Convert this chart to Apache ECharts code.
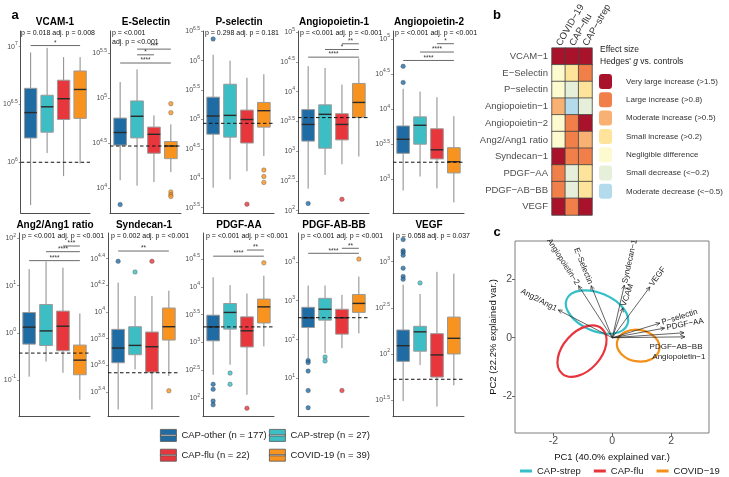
<!DOCTYPE html>
<html>
<head>
<meta charset="utf-8">
<title>Endothelial markers</title>
<script src="https://cdn.jsdelivr.net/npm/echarts@6/dist/echarts.min.js"></script>
<style>
* { margin: 0; padding: 0; }
#main { width: 729px; height: 477px; }
</style>
</head>
<body>
<div id="main"></div>
<script>
// ---- groups ----
var groups = ['CAP-other (n = 177)', 'CAP-strep (n = 27)', 'CAP-flu (n = 22)', 'COVID-19 (n = 39)'];
var groupColors = ['#1f6ca5', '#3cbec4', '#e7363c', '#f7931e'];

// ---- panel a: box stats in log10 units, [low whisker, q1, median, q3, high whisker] per group ----
var markers = ['VCAM-1', 'E-Selectin', 'P-selectin', 'Angiopoietin-1', 'Angiopoietin-2',
               'Ang2/Ang1 ratio', 'Syndecan-1', 'PDGF-AA', 'PDGF-AB-BB', 'VEGF'];
var pTexts = ['p = 0.018 adj. p = 0.008', 'p = <0.001\nadj. p = <0.001', 'p = 0.298 adj. p = 0.181',
              'p = <0.001 adj. p = <0.001', 'p = <0.001 adj. p = <0.001', 'p = <0.001 adj. p = <0.001',
              'p = 0.002 adj. p = <0.001', 'p = <0.001 adj. p = <0.001', 'p = <0.001 adj. p = <0.001',
              'p = 0.058 adj. p = 0.037'];

var vcamBox = [[5.63, 6.21, 6.43, 6.64, 6.95], [6.08, 6.26, 6.48, 6.58, 6.99], [5.88, 6.37, 6.55, 6.71, 6.91], [5.99, 6.38, 6.63, 6.79, 6.91]];
var eselBox = [[4.09, 4.48, 4.62, 4.78, 5.18], [4.03, 4.56, 4.80, 4.97, 5.32], [4.07, 4.39, 4.60, 4.68, 4.81], [4.18, 4.33, 4.47, 4.52, 4.71]];
var pselBox = [[3.84, 4.75, 5.06, 5.38, 6.10], [3.98, 4.70, 5.07, 5.60, 6.00], [4.12, 4.60, 5.00, 5.16, 5.71], [4.38, 4.87, 5.15, 5.29, 5.77]];
var ang1Box = [[2.37, 3.17, 3.45, 3.70, 4.43], [2.60, 3.05, 3.62, 3.78, 4.40], [2.78, 3.19, 3.45, 3.63, 4.12], [2.91, 3.57, 3.82, 4.14, 4.56]];
var ang2Box = [[2.84, 3.37, 3.57, 3.76, 4.29], [3.04, 3.50, 3.77, 3.89, 4.25], [2.87, 3.29, 3.42, 3.72, 4.17], [2.67, 3.09, 3.25, 3.45, 3.90]];
var ratioBox = [[-0.93, -0.24, 0.12, 0.43, 1.35], [-0.61, -0.27, 0.04, 0.60, 1.51], [-0.85, -0.38, 0.14, 0.46, 1.38], [-1.42, -0.89, -0.58, -0.26, 0.41]];
var syndBox = [[3.27, 3.62, 3.73, 3.87, 4.22], [3.57, 3.68, 3.75, 3.89, 4.12], [3.27, 3.55, 3.74, 3.85, 4.12], [3.52, 3.79, 3.89, 4.03, 4.16]];
var pdgfaaBox = [[2.42, 3.03, 3.28, 3.49, 4.17], [2.60, 3.24, 3.54, 3.70, 4.03], [2.06, 2.92, 3.21, 3.46, 3.88], [2.93, 3.35, 3.64, 3.78, 4.20]];
var pdgfabBox = [[1.52, 2.31, 2.56, 2.83, 3.39], [1.65, 2.50, 2.78, 3.06, 3.39], [1.78, 2.14, 2.56, 2.78, 3.15], [2.16, 2.70, 2.93, 3.16, 3.62]];
var vegfBox = [[1.49, 1.92, 2.09, 2.26, 2.75], [1.88, 2.03, 2.24, 2.30, 2.65], [1.43, 1.75, 1.99, 2.22, 2.89], [1.66, 2.00, 2.17, 2.40, 2.87]];

// outliers: [group number 1-4, log10 value]
var vcamOut = [];
var eselOut = [[1, 3.82], [4, 4.94], [4, 4.84], [4, 3.96], [4, 3.93], [4, 3.91]];
var pselOut = [[1, 6.37], [3, 3.56], [4, 4.14], [4, 4.03], [4, 3.93]];
var ang1Out = [[1, 2.12], [3, 2.19]];
var ang2Out = [[1, 4.61], [1, 4.38]];
var ratioOut = [];
var syndOut = [[1, 4.38], [2, 4.30], [3, 4.38], [4, 3.41]];
var pdgfaaOut = [[1, 2.25], [1, 2.16], [1, 1.95], [1, 1.88], [2, 2.45], [2, 2.25], [3, 1.82], [4, 4.43]];
var pdgfabOut = [[1, 1.46], [1, 1.41], [1, 1.19], [1, 0.69], [1, 0.25], [2, 1.55], [2, 1.45], [3, 0.69], [4, 4.07]];
var vegfOut = [[1, 3.24], [1, 3.12], [1, 3.10], [1, 3.07], [1, 2.93], [1, 2.84], [1, 2.81], [2, 2.77]];

// healthy control median (dashed line), log10
var controlMedians = [6.0, 4.47, 4.935, 3.565, 3.243, -0.43, 3.545, 3.28, 2.563, 1.726];

// significance brackets: [from group, to group, log10 height, stars]
var vcamSig = [[1, 4, 7.01, '*']];
var eselSig = [[2, 4, 5.545, '***'], [2, 3, 5.482, '*'], [1, 4, 5.391, '****']];
var pselSig = [];
var ang1Sig = [[3, 4, 4.807, '**'], [2, 4, 4.711, '*'], [1, 4, 4.582, '****']];
var ang2Sig = [[3, 4, 4.933, '*'], [2, 4, 4.814, '****'], [1, 4, 4.694, '****']];
var ratioSig = [[3, 4, 1.84, '***'], [2, 4, 1.72, '****'], [1, 4, 1.53, '****']];
var syndSig = [[1, 4, 4.457, '**']];
var pdgfaaSig = [[3, 4, 4.66, '**'], [1, 4, 4.55, '****']];
var pdgfabSig = [[3, 4, 4.347, '**'], [1, 4, 4.218, '****']];
var vegfSig = [];

// y tick exponents and axis ranges
var vcamTicks = [6, 6.5, 7];
var eselTicks = [4, 4.5, 5, 5.5];
var pselTicks = [3.5, 4, 4.5, 5, 5.5, 6, 6.5];
var ang1Ticks = [2, 2.5, 3, 3.5, 4, 4.5, 5];
var ang2Ticks = [3, 3.5, 4, 4.5, 5];
var ratioTicks = [-1, 0, 1, 2];
var syndTicks = [3.4, 3.6, 3.8, 4, 4.2, 4.4];
var pdgfaaTicks = [2, 2.5, 3, 3.5, 4, 4.5];
var pdgfabTicks = [1, 2, 3, 4];
var vegfTicks = [1.5, 2, 2.5, 3];
var yMin = [5.561, 3.727, 3.41, 1.96, 2.519, -1.764, 3.221, 1.68, 0.036, 1.328];
var yMax = [7.136, 5.746, 6.505, 5.022, 5.114, 2.116, 4.592, 4.966, 4.74, 3.311];

// ---- panel b: effect size class, 6 = very large increase ... 0 = moderate decrease ----
var heatRows = ['VCAM−1', 'E−Selectin', 'P−selectin', 'Angiopoietin−1', 'Angiopoietin−2',
                'Ang2/Ang1 ratio', 'Syndecan−1', 'PDGF−AA', 'PDGF−AB−BB', 'VEGF'];
var heatCols = ['COVID−19', 'CAP−flu', 'CAP−strep'];
var covidEffect = [6, 2, 2, 4, 2, 2, 6, 5, 5, 6];
var fluEffect = [6, 3, 1, 0, 5, 5, 5, 1, 1, 5];
var strepEffect = [6, 5, 3, 1, 6, 4, 5, 3, 3, 6];
var effectLabels = ['Very large increase (>1.5)', 'Large increase (>0.8)', 'Moderate increase (>0.5)',
                    'Small increase (>0.2)', 'Negligible difference', 'Small decrease (<−0.2)', 'Moderate decrease (<−0.5)'];
var effectColors = ['#a8132b', '#f07f4a', '#f9b173', '#fde49a', '#fefacf', '#e6efd9', '#b3dbeb'];

// ---- panel c: PCA loadings and group ellipses ----
var pcaVars = ['VCAM', 'E−Selectin', 'P−selectin', 'Angiopoietin−1', 'Angiopoietin−2',
               'Ang2/Ang1', 'Syndecan−1', 'PDGF−AA', 'PDGF−AB−BB', 'VEGF'];
var pc1Load = [0.36, -0.72, 1.62, 2.47, -1.15, -1.84, 0.41, 1.78, 2.44, 1.28];
var pc2Load = [1.02, 1.78, 0.50, 0.03, 1.78, 0.95, 1.80, 0.33, 0.17, 1.74];
var ellipseGroups = ['CAP-strep', 'CAP-flu', 'COVID−19'];
var ellipseColors = ['#35bfc8', '#e8343d', '#f39019'];
var ellCx = [-0.52, -1.03, 0.88];
var ellCy = [0.88, -0.46, -0.27];
var ellMajor = [1.12, 1.02, 0.73];
var ellMinor = [0.65, 0.65, 0.54];
var ellAngle = [-23, 48, -10];

var FONT = 'Liberation Sans, Arial, sans-serif';
var chart = echarts.init(document.getElementById('main'));

var boxes = [vcamBox, eselBox, pselBox, ang1Box, ang2Box, ratioBox, syndBox, pdgfaaBox, pdgfabBox, vegfBox];
var outs = [vcamOut, eselOut, pselOut, ang1Out, ang2Out, ratioOut, syndOut, pdgfaaOut, pdgfabOut, vegfOut];
var sigs = [vcamSig, eselSig, pselSig, ang1Sig, ang2Sig, ratioSig, syndSig, pdgfaaSig, pdgfabSig, vegfSig];
var ticks = [vcamTicks, eselTicks, pselTicks, ang1Ticks, ang2Ticks, ratioTicks, syndTicks, pdgfaaTicks, pdgfabTicks, vegfTicks];
var panelLeft = [19, 110, 203, 298, 393, 19, 108, 203, 298, 393];
var rowTop = [31, 233], rowHeight = [182, 183];

var grid = [], xAxis = [], yAxis = [], series = [], graphic = [];

function renderBox(params, api) {
    var x = api.value(0);
    var lo = api.coord([x, api.value(1)]), q1 = api.coord([x, api.value(2)]);
    var md = api.coord([x, api.value(3)]), q3 = api.coord([x, api.value(4)]);
    var hi = api.coord([x, api.value(5)]);
    var half = api.size([0.375, 0])[0];
    var cx = lo[0];
    return {
        type: 'group',
        children: [
            { type: 'line', shape: { x1: cx, y1: hi[1], x2: cx, y2: q3[1] }, style: { stroke: '#7c7c7c', lineWidth: 0.9 } },
            { type: 'line', shape: { x1: cx, y1: q1[1], x2: cx, y2: lo[1] }, style: { stroke: '#7c7c7c', lineWidth: 0.9 } },
            { type: 'rect', shape: { x: cx - half, y: q3[1], width: 2 * half, height: q1[1] - q3[1] },
              style: { fill: api.visual('color'), stroke: '#9a9a9a', lineWidth: 1 } },
            { type: 'line', shape: { x1: cx - half, y1: md[1], x2: cx + half, y2: md[1] }, style: { stroke: '#2a2a2a', lineWidth: 1.4 } }
        ]
    };
}

function sigRenderer(list) {
    return function (params, api) {
        var d = list[params.dataIndex];
        var a = api.coord([d[0], d[2]]), b = api.coord([d[1], d[2]]);
        return {
            type: 'group',
            children: [
                { type: 'line', shape: { x1: a[0], y1: a[1], x2: b[0], y2: b[1] }, style: { stroke: '#444', lineWidth: 0.8 } },
                { type: 'text', x: (a[0] + b[0]) / 2, y: a[1] - 2.5,
                  style: { text: d[3], align: 'center', verticalAlign: 'middle', fill: '#333', font: '6.5px ' + FONT } }
            ]
        };
    };
}

for (var p = 0; p < 10; p++) {
    var row = p < 5 ? 0 : 1;
    grid.push({ left: panelLeft[p], top: rowTop[row], width: 71, height: rowHeight[row] });
    xAxis.push({
        type: 'value', gridIndex: p, min: 0.4, max: 4.6,
        axisLine: { show: true, onZero: false, lineStyle: { color: '#222', width: 0.8 } },
        axisTick: { show: false }, axisLabel: { show: false }, splitLine: { show: false }
    });
    yAxis.push({
        type: 'value', gridIndex: p, min: yMin[p], max: yMax[p],
        axisLine: { show: true, onZero: false, lineStyle: { color: '#222', width: 0.8 } },
        axisTick: { show: true, length: 2, customValues: ticks[p], lineStyle: { color: '#555', width: 0.6 } },
        axisLabel: {
            customValues: ticks[p], margin: 3,
            formatter: function (v) { return '{b|10}{s|' + String(Math.round(v * 10) / 10) + '}'; },
            rich: {
                b: { fontSize: 7, lineHeight: 11, color: '#4d4d4d', fontFamily: FONT },
                s: { fontSize: 5, lineHeight: 6, verticalAlign: 'top', color: '#4d4d4d', fontFamily: FONT }
            }
        },
        splitLine: { show: false }
    });
    for (var g = 0; g < 4; g++) {
        series.push({
            type: 'custom', name: groups[g], xAxisIndex: p, yAxisIndex: p,
            itemStyle: { color: groupColors[g] },
            data: [[g + 1].concat(boxes[p][g])],
            renderItem: renderBox, z: 2
        });
    }
    series.push({
        type: 'scatter', xAxisIndex: p, yAxisIndex: p, symbolSize: 4.5, z: 4, silent: true,
        data: outs[p].map(function (o) {
            return { value: [o[0], o[1]], itemStyle: { color: groupColors[o[0] - 1], borderColor: '#333', borderWidth: 0.4 } };
        })
    });
    series.push({
        type: 'line', xAxisIndex: p, yAxisIndex: p, symbol: 'none', silent: true, z: 5,
        data: [[0.4, controlMedians[p]], [4.6, controlMedians[p]]],
        lineStyle: { type: [3.5, 2.5], color: '#111', width: 1 }
    });
    if (sigs[p].length) {
        series.push({
            type: 'custom', xAxisIndex: p, yAxisIndex: p, silent: true, z: 6,
            data: sigs[p].map(function (d) { return [d[0], d[2]]; }),
            renderItem: sigRenderer(sigs[p])
        });
    }
    graphic.push({
        type: 'text', x: panelLeft[p] + 36, y: row ? 225 : 22,
        style: { text: markers[p], align: 'center', verticalAlign: 'middle', fill: '#000', font: 'bold 10px ' + FONT }
    });
    graphic.push({
        type: 'text', x: panelLeft[p] + (row ? 3 : 2), y: row ? 231.5 : 28.5,
        style: { text: pTexts[p], align: 'left', verticalAlign: 'top', fill: '#111', font: '7px ' + FONT, lineHeight: 9 }
    });
}

// ---- heatmap (panel b) ----
var hIdx = 10;
grid.push({ left: 552, top: 45, width: 40, height: 170 });
xAxis.push({
    type: 'category', gridIndex: hIdx, data: heatCols, position: 'top',
    axisLine: { show: false }, axisTick: { show: false }, splitLine: { show: false },
    axisLabel: { rotate: -60, interval: 0, margin: 3, fontSize: 9.5, color: '#333', fontFamily: FONT }
});
yAxis.push({
    type: 'category', gridIndex: hIdx, data: heatRows, inverse: true,
    axisLine: { show: false }, axisTick: { show: false }, splitLine: { show: false },
    axisLabel: { margin: 4, fontSize: 9.5, color: '#4d4d4d', fontFamily: FONT }
});
var heatData = [];
[covidEffect, fluEffect, strepEffect].forEach(function (col, c) {
    col.forEach(function (v, r) { heatData.push([c, r, v]); });
});
var heatSeriesIndex = series.length;
series.push({
    type: 'heatmap', xAxisIndex: hIdx, yAxisIndex: hIdx, data: heatData,
    itemStyle: { borderColor: '#444', borderWidth: 0.8 }, silent: true
});

// ---- biplot (panel c) ----
var cIdx = 11;
grid.push({ left: 515, top: 241, width: 194, height: 192, show: true, borderColor: '#7f7f7f', borderWidth: 1, backgroundColor: 'transparent' });
xAxis.push({
    type: 'value', gridIndex: cIdx, min: -3.31, max: 3.29,
    name: 'PC1 (40.0% explained var.)', nameLocation: 'middle', nameGap: 19,
    nameTextStyle: { fontSize: 9.5, color: '#111', fontFamily: FONT },
    axisLine: { show: false, onZero: false },
    axisTick: { show: true, length: 3, customValues: [-2, 0, 2], lineStyle: { color: '#666' } },
    axisLabel: { customValues: [-2, 0, 2], margin: 3, fontSize: 10.5, color: '#4d4d4d', fontFamily: FONT },
    splitLine: { show: false }
});
yAxis.push({
    type: 'value', gridIndex: cIdx, min: -3.26, max: 3.31,
    name: 'PC2 (22.2% explained var.)', nameLocation: 'middle', nameGap: 15,
    nameTextStyle: { fontSize: 9.5, color: '#111', fontFamily: FONT },
    axisLine: { show: false, onZero: false },
    axisTick: { show: true, length: 3, customValues: [-2, 0, 2], lineStyle: { color: '#666' } },
    axisLabel: { customValues: [-2, 0, 2], margin: 3, fontSize: 10.5, color: '#4d4d4d', fontFamily: FONT },
    splitLine: { show: false }
});

for (var e = 0; e < 3; e++) {
    series.push({
        type: 'custom', name: ellipseGroups[e], xAxisIndex: cIdx, yAxisIndex: cIdx,
        itemStyle: { color: ellipseColors[e] }, silent: true,
        data: [[ellCx[e], ellCy[e], ellMajor[e], ellMinor[e], ellAngle[e]]],
        renderItem: function (params, api) {
            var c = api.coord([api.value(0), api.value(1)]);
            var s = api.size([api.value(2), api.value(3)]);
            return {
                type: 'ellipse', x: c[0], y: c[1], rotation: api.value(4) * Math.PI / 180,
                shape: { cx: 0, cy: 0, rx: s[0], ry: s[1] },
                style: { fill: 'none', stroke: api.visual('color'), lineWidth: 2.2 }
            };
        }
    });
}

var labelNudge = { 'PDGF−AB−BB': [-8, 14], 'Angiopoietin−1': [-6, 20] };
series.push({
    type: 'custom', xAxisIndex: cIdx, yAxisIndex: cIdx, silent: true, z: 6,
    data: pc1Load.map(function (x, i) { return [x, pc2Load[i], i]; }),
    renderItem: function (params, api) {
        var x = api.value(0), y = api.value(1), name = pcaVars[api.value(2)];
        var o = api.coord([0, 0]), t = api.coord([x, y]);
        var dx = t[0] - o[0], dy = t[1] - o[1], L = Math.sqrt(dx * dx + dy * dy);
        var ux = dx / L, uy = dy / L, hl = 4.5, ang = 25 * Math.PI / 180;
        function head(sign) {
            var bx = -ux, by = -uy, ca = Math.cos(sign * ang), sa = Math.sin(sign * ang);
            return [t[0] + hl * (bx * ca - by * sa), t[1] + hl * (bx * sa + by * ca)];
        }
        var label;
        if (labelNudge[name]) {
            label = { type: 'text', x: t[0] + labelNudge[name][0], y: t[1] + labelNudge[name][1],
                      style: { text: name, align: 'center', verticalAlign: 'middle', fill: '#222', font: '8px ' + FONT } };
        } else {
            label = { type: 'text', x: t[0] + 2 * ux, y: t[1] + 2 * uy, rotation: Math.atan(y / x),
                      style: { text: name, align: x > 0 ? 'left' : 'right', verticalAlign: 'middle', fill: '#222', font: '8px ' + FONT } };
        }
        return {
            type: 'group',
            children: [
                { type: 'line', shape: { x1: o[0], y1: o[1], x2: t[0], y2: t[1] }, style: { stroke: '#222', lineWidth: 0.7 } },
                { type: 'polyline', shape: { points: [head(1), t, head(-1)] }, style: { stroke: '#222', lineWidth: 0.7, fill: 'none' } },
                label
            ]
        };
    }
});

// panel letters and legend title for b
graphic.push({ type: 'text', x: 15, y: 15, style: { text: 'a', align: 'center', verticalAlign: 'middle', fill: '#000', font: 'bold 13px ' + FONT } });
graphic.push({ type: 'text', x: 497, y: 15, style: { text: 'b', align: 'center', verticalAlign: 'middle', fill: '#000', font: 'bold 13px ' + FONT } });
graphic.push({ type: 'text', x: 497, y: 232, style: { text: 'c', align: 'center', verticalAlign: 'middle', fill: '#000', font: 'bold 13px ' + FONT } });
graphic.push({ type: 'text', x: 600, y: 50, style: { text: 'Effect size', align: 'left', verticalAlign: 'middle', fill: '#222', font: '8.5px ' + FONT } });
graphic.push({ type: 'text', x: 600, y: 62, style: { text: "Hedges' {i|g} vs. controls", rich: { i: { fontStyle: 'italic', fontSize: 8.5, fontFamily: FONT, fill: '#222' } },
               align: 'left', verticalAlign: 'middle', fill: '#222', font: '8.5px ' + FONT } });

var boxIcon = 'path://M0,0H16V12H0Z M0,5.4V6.6H16V5.4Z';
var legendText = { fontSize: 9.5, color: '#222', fontFamily: FONT };

var option = {
    animation: false,
    backgroundColor: '#fff',
    grid: grid,
    xAxis: xAxis,
    yAxis: yAxis,
    legend: [
        { data: [groups[0], groups[2]], orient: 'vertical', left: 160, top: 429, padding: 0, itemWidth: 16, itemHeight: 12, itemGap: 7,
          icon: boxIcon, itemStyle: { borderColor: '#555', borderWidth: 0.8 }, textStyle: legendText, selectedMode: false },
        { data: [groups[1], groups[3]], orient: 'vertical', left: 269, top: 429, padding: 0, itemWidth: 16, itemHeight: 12, itemGap: 7,
          icon: boxIcon, itemStyle: { borderColor: '#555', borderWidth: 0.8 }, textStyle: legendText, selectedMode: false },
        { data: ellipseGroups, orient: 'horizontal', left: 520, top: 466, padding: 0, width: 220, itemWidth: 12, itemHeight: 3, itemGap: 13,
          icon: 'rect', textStyle: legendText, selectedMode: false }
    ],
    visualMap: {
        type: 'piecewise', seriesIndex: heatSeriesIndex, orient: 'vertical', left: 584, top: 59, align: 'left',
        itemWidth: 13, itemHeight: 15, itemGap: 3.3, textGap: 14, selectedMode: false,
        textStyle: { fontSize: 8, color: '#333', fontFamily: FONT },
        pieces: effectLabels.map(function (l, i) { return { value: 6 - i, label: l, color: effectColors[i] }; })
    },
    graphic: graphic,
    series: series
};
chart.setOption(option);
</script>
</body>
</html>
